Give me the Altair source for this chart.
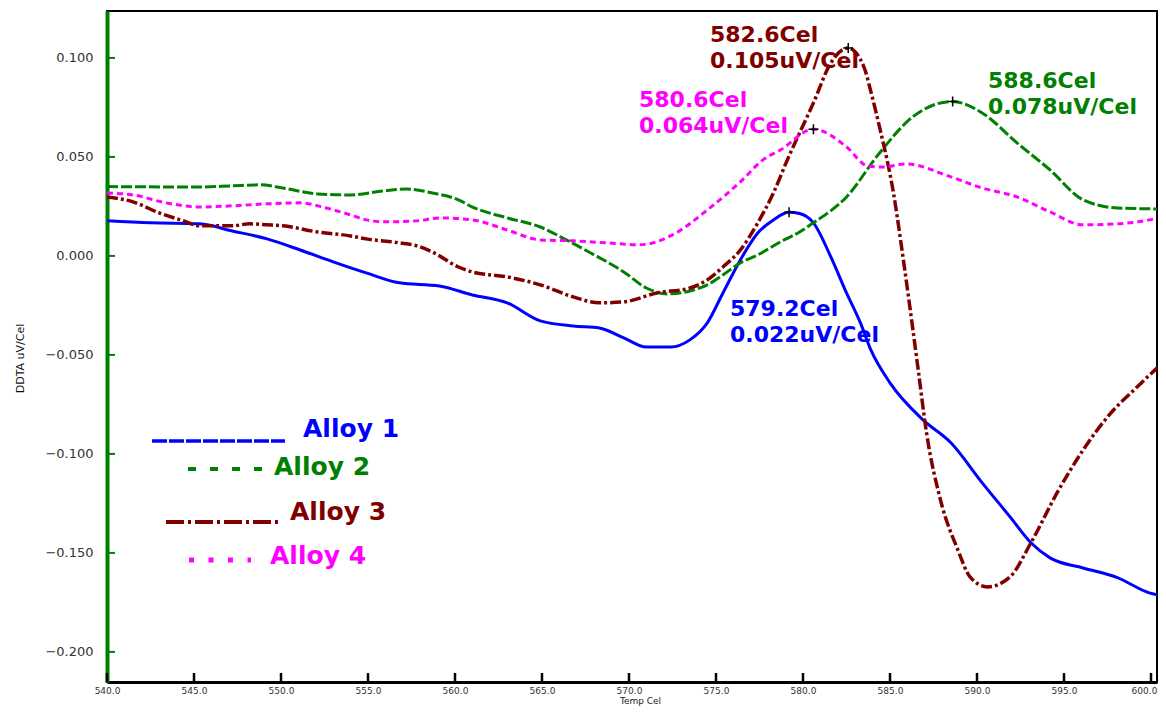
import altair as alt
import pandas as pd

# ---------------- data ----------------
a1_temp = [540.0, 542.5, 545.3, 547.2, 549.2, 551.1, 553.0, 554.9, 556.8, 559.1,
           561.0, 563.0, 564.9, 566.8, 568.3, 569.7, 571.0, 572.4, 573.5, 574.5,
           575.4, 576.4, 577.4, 578.3, 579.2, 579.8, 580.6, 581.6, 582.5, 583.3,
           583.9, 585.0, 586.9, 588.5, 590.3, 591.9, 593.1, 594.2, 596.1, 598.1,
           599.9, 600.7]
a1_ddta = [0.0177, 0.0167, 0.0162, 0.0126, 0.0086, 0.0030, -0.0030, -0.0086, -0.0136, -0.0152,
           -0.0197, -0.0237, -0.0328, -0.0354, -0.0364, -0.0414, -0.0460, -0.0460, -0.0424, -0.0338,
           -0.0187, -0.0020, 0.0116, 0.0182, 0.0220, 0.0214, 0.0167, -0.0005, -0.0187, -0.0338,
           -0.0475, -0.0641, -0.0828, -0.0944, -0.1146, -0.1318, -0.1449, -0.1525, -0.1576, -0.1626,
           -0.1702, -0.1717]

a2_temp = [540.0, 545.3, 547.2, 548.8, 550.1, 552.1, 554.0, 555.9, 557.2, 558.7,
           560.2, 561.0, 563.0, 564.9, 566.4, 567.8, 569.7, 571.0, 572.2, 573.5,
           574.5, 575.4, 576.4, 577.4, 578.7, 579.8, 580.6, 582.5, 584.4, 586.3,
           588.6, 590.3, 592.3, 594.2, 596.1, 598.1, 600.7]
a2_ddta = [0.0350, 0.0348, 0.0354, 0.0359, 0.0343, 0.0313, 0.0308, 0.0328, 0.0338, 0.0318,
           0.0283, 0.0247, 0.0192, 0.0146, 0.0081, 0.0015, -0.0081, -0.0162, -0.0192, -0.0177,
           -0.0146, -0.0096, -0.0035, 0.0005, 0.0071, 0.0121, 0.0167, 0.0298, 0.0520, 0.0702,
           0.0780, 0.0722, 0.0571, 0.0434, 0.0283, 0.0242, 0.0237]

a3_temp = [540.0, 541.5, 543.0, 544.4, 545.3, 547.2, 548.2, 549.2, 550.1, 552.1,
           554.0, 554.9, 556.8, 557.8, 558.7, 560.2, 561.0, 563.0, 564.9, 566.8,
           568.3, 569.7, 571.6, 573.5, 574.5, 575.4, 576.4, 577.4, 578.3, 579.1,
           580.6, 581.6, 582.6, 583.5, 583.9, 584.4, 585.2, 585.8, 586.3, 586.6,
           587.1, 587.9, 588.9, 589.6, 590.6, 591.9, 593.1, 594.6, 596.1, 597.6,
           599.2, 600.6]
a3_ddta = [0.0298, 0.0273, 0.0217, 0.0177, 0.0152, 0.0152, 0.0162, 0.0157, 0.0152, 0.0121,
           0.0101, 0.0086, 0.0066, 0.0051, 0.0020, -0.0056, -0.0081, -0.0106, -0.0146, -0.0207,
           -0.0237, -0.0232, -0.0187, -0.0162, -0.0121, -0.0056, 0.0030, 0.0167, 0.0318, 0.0485,
           0.0773, 0.0975, 0.1050, 0.0955, 0.0830, 0.0650, 0.0318, -0.0040, -0.0362, -0.0561,
           -0.0894, -0.1232, -0.1485, -0.1621, -0.1672, -0.1621, -0.1449, -0.1197, -0.0980, -0.0803,
           -0.0662, -0.0545]

a4_temp = [540.0, 541.5, 543.4, 545.3, 547.2, 549.2, 551.1, 552.6, 554.0, 554.9,
           555.9, 557.8, 559.1, 561.0, 563.0, 564.9, 566.8, 568.7, 570.6, 572.5,
           574.5, 576.4, 577.7, 578.7, 580.6, 582.5, 583.7, 584.6, 585.9, 588.5,
           590.3, 592.3, 594.2, 596.1, 598.1, 599.9, 600.7]
a4_ddta = [0.0318, 0.0308, 0.0268, 0.0247, 0.0253, 0.0263, 0.0268, 0.0242, 0.0207, 0.0182,
           0.0172, 0.0177, 0.0192, 0.0182, 0.0131, 0.0081, 0.0076, 0.0066, 0.0056, 0.0106,
           0.0232, 0.0374, 0.0485, 0.0535, 0.0640, 0.0551, 0.0455, 0.0449, 0.0465, 0.0399,
           0.0343, 0.0298, 0.0222, 0.0157, 0.0162, 0.0182, 0.0197]

alloys = ["Alloy 1", "Alloy 2", "Alloy 3", "Alloy 4"]
peak_temp = [579.2, 588.6, 582.6, 580.6]
peak_ddta = [0.022, 0.078, 0.105, 0.064]

x_tick_vals = [540.0, 545.0, 550.0, 555.0, 560.0, 565.0, 570.0, 575.0, 580.0, 585.0, 590.0, 595.0, 600.0]
y_tick_vals = [-0.200, -0.150, -0.100, -0.050, 0.000, 0.050, 0.100]

# ---------------- layout / style ----------------
W, H = 1050, 671
X_DOMAIN = [540.0, 600.345]
Y_DOMAIN = [-0.2152, 0.1237]

colors = ["#0000FF", "#008000", "#800000", "#FF00FF"]
widths = [3, 3, 3.5, 3]
dashes = [None, [11, 3], [11, 3, 3, 3], [6, 4]]

# annotation text positions (pixels inside plot), baseline of first line
ann_x = [623, 881, 603, 532]
ann_y = [304.5, 76.5, 30.5, 95.5]
ANN_STEP = 26
# legend sample rules and label positions
leg_x1 = [45, 81, 59, 82]
leg_x2 = [178, 156, 171, 144]
leg_sy = [430, 458, 511, 549]
leg_sw = [3.5, 4, 4, 5]
leg_dash = [[15, 2], [8, 14], [18, 4, 3, 4], [5, 14.5]]
leg_lx = [196, 167, 183, 163]
leg_ly = [426, 464, 509, 553]

FONT = "DejaVu Sans"

x_scale = alt.Scale(domain=X_DOMAIN, nice=False, zero=False)
y_scale = alt.Scale(domain=Y_DOMAIN, nice=False, zero=False)

x_axis = alt.Axis(title="Temp Cel", values=x_tick_vals, format=".1f", grid=False, ticks=False,
                  domainColor="#000000", domainWidth=3, labelFont=FONT, labelFontSize=9,
                  labelColor="#333333", labelPadding=4, labelFlush=False, labelOverlap=False,
                  labelOffset={"condition": {"test": "datum.value >= 600", "value": -7}, "value": 0},
                  titleFont=FONT, titleFontSize=9, titleFontWeight="normal", titleColor="#222222",
                  titlePadding=1, titleX=533)
y_axis = alt.Axis(title="DDTA uV/Cel", values=y_tick_vals, format=".3f", grid=False, ticks=False,
                  domainColor="#008000", domainWidth=4, labelFont=FONT, labelFontSize=13,
                  labelColor="#333333", labelPadding=14, labelFlush=False, labelOverlap=False,
                  titleFont=FONT, titleFontSize=11, titleFontWeight="normal", titleColor="#111111",
                  titleX=-87, titleY=347, titleBaseline="middle")

X = lambda f: alt.X(f, type="quantitative", scale=x_scale, axis=x_axis)
Y = lambda f: alt.Y(f, type="quantitative", scale=y_scale, axis=y_axis)

series = [(a1_temp, a1_ddta), (a2_temp, a2_ddta), (a3_temp, a3_ddta), (a4_temp, a4_ddta)]

layers = []

# ticks (pointing inward)
xt = pd.DataFrame({"t": x_tick_vals})
layers.append(alt.Chart(xt).mark_rule(color="#000000", strokeWidth=2.5).encode(
    x=X("t"), y=alt.value(H), y2=alt.value(H - 9)))
yt = pd.DataFrame({"v": y_tick_vals})
layers.append(alt.Chart(yt).mark_rule(color="#008000", strokeWidth=2).encode(
    y=Y("v"), x=alt.value(0), x2=alt.value(8)))

# curves
for i, (tt, vv) in enumerate(series):
    df = pd.DataFrame({"temp": tt, "ddta": vv})
    kw = dict(color=colors[i], strokeWidth=widths[i], interpolate="monotone", clip=True)
    if dashes[i] is not None:
        kw["strokeDash"] = dashes[i]
    layers.append(alt.Chart(df).mark_line(**kw).encode(x=X("temp"), y=Y("ddta"), order="temp:Q"))

# peak markers
pk = pd.DataFrame({"alloy": alloys, "temp": peak_temp, "ddta": peak_ddta})
layers.append(alt.Chart(pk).mark_point(shape="M-1,0L1,0M0,-1L0,1", size=100, filled=False,
                                       color="#000000", strokeWidth=1.5, opacity=1).encode(
    x=X("temp"), y=Y("ddta")))

# peak annotations
for i in range(4):
    t1 = f"{peak_temp[i]:.1f}Cel"
    t2 = f"{peak_ddta[i]:.3f}uV/Cel"
    d = pd.DataFrame({"txt": [t1, t2], "row": [0, 1]})
    for r in range(2):
        layers.append(alt.Chart(d[d.row == r]).mark_text(
            font=FONT, fontSize=22, fontWeight="bold", color=colors[i], align="left",
            baseline="alphabetic").encode(
            text="txt:N", x=alt.value(ann_x[i]), y=alt.value(ann_y[i] + ANN_STEP * r)))

# legend
for i in range(4):
    d = pd.DataFrame({"alloy": [alloys[i]]})
    layers.append(alt.Chart(d).mark_rule(color=colors[i], strokeWidth=leg_sw[i],
                                         strokeDash=leg_dash[i]).encode(
        x=alt.value(leg_x1[i]), x2=alt.value(leg_x2[i]), y=alt.value(leg_sy[i])))
    layers.append(alt.Chart(d).mark_text(font=FONT, fontSize=25, fontWeight="bold",
                                         color=colors[i], align="left",
                                         baseline="alphabetic").encode(
        text="alloy:N", x=alt.value(leg_lx[i]), y=alt.value(leg_ly[i])))

chart = alt.layer(*layers).properties(
    width=W, height=H,
    autosize=alt.AutoSizeParams(type="none"),
    padding={"left": 99, "top": 3, "right": 1, "bottom": 24},
    background="#FFFFFF",
).configure_view(stroke="#000000", strokeWidth=2)

chart.save("out.html", embed_options={"renderer": "svg", "actions": False})
